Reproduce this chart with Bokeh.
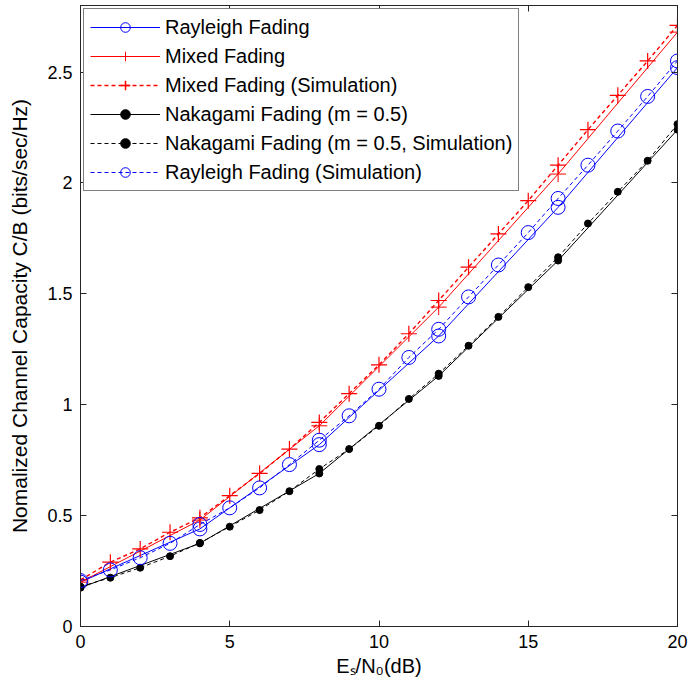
from bokeh.plotting import figure
from bokeh.models import LinearAxis, FixedTicker, Range1d, Legend, LegendItem
from bokeh.embed import file_html
from bokeh.resources import INLINE

# ---- data ----
snr_full = list(range(21))
snr_coarse = [0, 4, 8, 12, 16, 20]

rayleigh = [0.20, 0.44, 0.82, 1.31, 1.89, 2.52]
rayleigh_sim = [0.207, 0.255, 0.31, 0.375, 0.46, 0.535, 0.625, 0.73, 0.84, 0.95, 1.07,
                1.213, 1.34, 1.486, 1.63, 1.776, 1.93, 2.08, 2.234, 2.39, 2.55]
mixed = [0.20, 0.48, 0.905, 1.44, 2.04, 2.68]
mixed_sim = [0.21, 0.29, 0.35, 0.425, 0.49, 0.59, 0.69, 0.80, 0.92, 1.05, 1.18,
             1.32, 1.47, 1.62, 1.77, 1.92, 2.08, 2.24, 2.395, 2.55, 2.71]
nakagami = [0.175, 0.375, 0.69, 1.13, 1.65, 2.24]
nakagami_sim = [0.18, 0.22, 0.265, 0.317, 0.377, 0.45, 0.525, 0.61, 0.71, 0.80, 0.905,
                1.026, 1.14, 1.266, 1.396, 1.53, 1.665, 1.817, 1.96, 2.10, 2.265]

x_ticks = [0, 5, 10, 15, 20]
y_ticks = [0, 0.5, 1, 1.5, 2, 2.5]

FONT = "Liberation Sans"
AX = "#262626"

p = figure(width=689, height=688, x_range=Range1d(0, 20), y_range=Range1d(0, 2.8),
           output_backend="svg", toolbar_location=None,
           min_border_left=80, min_border_right=12, min_border_top=5, min_border_bottom=62,
           background_fill_color="white", border_fill_color="white")
p.grid.visible = False
p.outline_line_color = AX
p.outline_line_width = 1

for ax in (p.xaxis[0], p.yaxis[0]):
    ax.axis_line_color = AX
    ax.major_tick_line_color = AX
    ax.major_tick_in = 6
    ax.major_tick_out = 0
    ax.minor_tick_line_color = None
    ax.major_label_text_font = FONT
    ax.major_label_text_font_size = "18px"
    ax.major_label_text_color = "black"
    ax.axis_label_text_font = FONT
    ax.axis_label_text_font_style = "normal"
    ax.axis_label_text_color = "black"

p.xaxis.ticker = FixedTicker(ticks=x_ticks)
p.yaxis.ticker = FixedTicker(ticks=y_ticks)
p.xaxis.major_label_standoff = 8
p.yaxis.major_label_standoff = 8
p.xaxis.axis_label = "E\u209b/N\u2080(dB)"
p.xaxis.axis_label_text_font_size = "20px"
p.xaxis.axis_label_standoff = 4
p.yaxis.axis_label = "Nomalized Channel Capacity C/B (bits/sec/Hz)"
p.yaxis.axis_label_text_font_size = "21px"
p.yaxis.axis_label_standoff = 13

top_ax = LinearAxis(ticker=FixedTicker(ticks=x_ticks), major_label_text_font_size="1px",
                    major_label_text_color=None,
                    major_label_standoff=0, major_tick_in=6, major_tick_out=0,
                    minor_tick_line_color=None, axis_line_color=AX, major_tick_line_color=AX)
right_ax = LinearAxis(ticker=FixedTicker(ticks=y_ticks), major_label_text_font_size="1px",
                      major_label_text_color=None,
                      major_label_standoff=0, major_tick_in=6, major_tick_out=0,
                      minor_tick_line_color=None, axis_line_color=AX, major_tick_line_color=AX)
p.add_layout(top_ax, "above")
p.add_layout(right_ax, "right")

RED, BLUE, BLACK = "#FF0000", "#0000FF", "#000000"
DASH = "4 3"

# Rayleigh analytic
p.line(snr_coarse, rayleigh, line_color=BLUE, line_width=1)
p.scatter(snr_coarse, rayleigh, marker="circle", size=14, line_color=BLUE,
          fill_color=None, line_width=1)
# Mixed analytic
p.line(snr_coarse, mixed, line_color=RED, line_width=1)
p.scatter(snr_coarse, mixed, marker="cross", size=16, line_color=RED, line_width=1)
# Mixed simulation
p.line(snr_full, mixed_sim, line_color=RED, line_width=1.4, line_dash=DASH)
p.scatter(snr_full, mixed_sim, marker="cross", size=16, line_color=RED, line_width=1.2)
# Nakagami analytic
p.line(snr_coarse, nakagami, line_color=BLACK, line_width=1)
p.scatter(snr_coarse, nakagami, marker="circle", size=7, line_color=BLACK, fill_color=BLACK)
# Nakagami simulation
p.line(snr_full, nakagami_sim, line_color=BLACK, line_width=1, line_dash=DASH)
p.scatter(snr_full, nakagami_sim, marker="circle", size=7, line_color=BLACK, fill_color=BLACK)
# Rayleigh simulation
p.line(snr_full, rayleigh_sim, line_color=BLUE, line_width=1, line_dash=DASH)
p.scatter(snr_full, rayleigh_sim, marker="circle", size=14, line_color=BLUE,
          fill_color=None, line_width=1)

# legend-only renderers (NaN points, never drawn in the plot area)
NAN = float("nan")

def legend_pair(color, dash, marker, size, fill, width=1):
    l = p.line(x=[NAN, NAN], y=[NAN, NAN], line_color=color, line_width=width, line_dash=dash)
    m = p.scatter(x=[NAN], y=[NAN], marker=marker, size=size, line_color=color,
                  fill_color=fill, line_width=width)
    return [l, m]

legend = Legend(items=[
    LegendItem(label="Rayleigh Fading", renderers=legend_pair(BLUE, "solid", "circle", 14, None)),
    LegendItem(label="Mixed Fading", renderers=legend_pair(RED, "solid", "cross", 16, None)),
    LegendItem(label="Mixed Fading (Simulation)", renderers=legend_pair(RED, DASH, "cross", 16, None, 1.5)),
    LegendItem(label="Nakagami Fading (m = 0.5)", renderers=legend_pair(BLACK, "solid", "circle", 7, BLACK)),
    LegendItem(label="Nakagami Fading (m = 0.5, Simulation)", renderers=legend_pair(BLACK, DASH, "circle", 7, BLACK)),
    LegendItem(label="Rayleigh Fading (Simulation)", renderers=legend_pair(BLUE, DASH, "circle", 14, None)),
], location="top_left")
legend.margin = 3
legend.padding = 6
legend.spacing = 5
legend.glyph_width = 70
legend.glyph_height = 24
legend.label_height = 24
legend.label_standoff = 5
legend.label_text_font = FONT
legend.label_text_font_size = "20px"
legend.label_text_color = "black"
legend.border_line_color = "black"
legend.border_line_width = 1
legend.background_fill_color = "white"
legend.background_fill_alpha = 1
p.add_layout(legend, "center")

open("out.html", "w").write(file_html(p, INLINE))
